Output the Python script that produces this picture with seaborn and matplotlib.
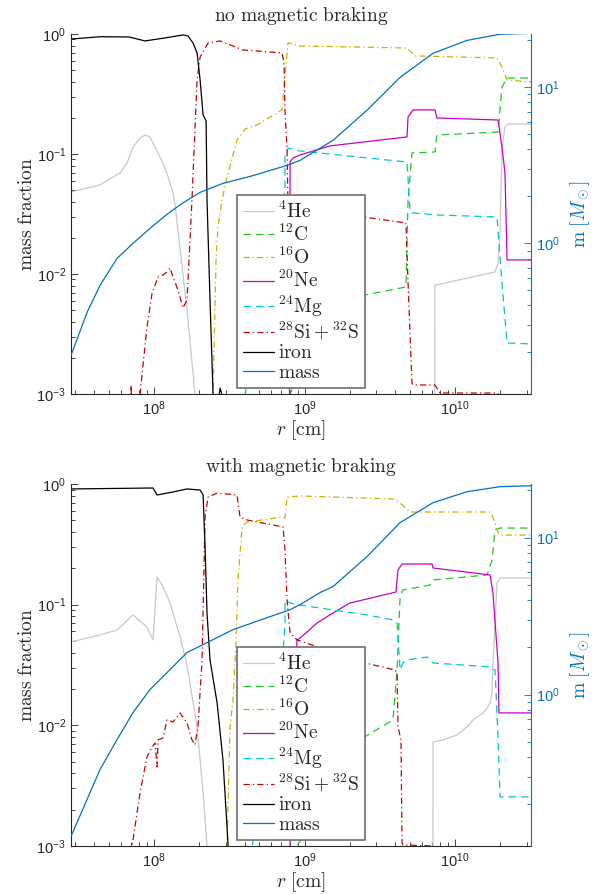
import numpy as np
import matplotlib
matplotlib.use('Agg')
import matplotlib.pyplot as plt
import matplotlib.ticker as mticker
import seaborn as sns

# values: log10 r [cm], log10 mass fraction, log10 m [Msun]

# ---------------- no magnetic braking ----------------
nb_he_r = [7.448, 7.641, 7.774, 7.821, 7.860, 7.907, 7.940, 7.973, 7.993, 8.040, 8.086, 8.126, 8.140,
           8.219, 8.272, 8.286, 8.4, 9.860, 9.867, 9.880, 10.266, 10.286, 10.299, 10.312, 10.332, 10.353, 10.505]
nb_he_x = [-1.317, -1.258, -1.158, -1.075, -0.942, -0.867, -0.842, -0.858, -0.908, -1.025, -1.158, -1.325, -1.425,
           -2.3, -3.0, -3.3, -6, -6, -2.092, -2.09, -1.983, -1.908, -1.658, -0.967, -0.775, -0.75, -0.75]

nb_c_r = [8.897, 8.904, 9.10, 9.402, 9.674, 9.688, 9.714, 9.867, 9.880, 10.286, 10.312, 10.346, 10.505]
nb_c_x = [-5, -3.0, -2.5, -2.175, -2.108, -1.383, -0.992, -0.983, -0.842, -0.817, -0.442, -0.367, -0.367]

nb_o_r = [8.385, 8.392, 8.412, 8.425, 8.452, 8.485, 8.551, 8.605, 8.684, 8.850, 8.864, 8.890, 8.924, 8.970,
          9.681, 9.734, 10.279, 10.312, 10.346, 10.505]
nb_o_x = [-3.3, -3.0, -1.883, -1.608, -1.383, -1.192, -0.883, -0.792, -0.758, -0.633, -0.442, -0.075, -0.083,
          -0.1, -0.117, -0.183, -0.2, -0.275, -0.383, -0.4]

nb_ne_r = [8.897, 8.904, 8.924, 8.970, 9.169, 9.681, 9.688, 9.721, 9.867, 9.880, 10.286, 10.312, 10.332,
           10.346, 10.505]
nb_ne_x = [-5, -1.067, -1.033, -1.008, -0.933, -0.858, -0.692, -0.633, -0.633, -0.7, -0.717, -0.942, -1.158,
           -1.883, -1.883]

nb_mg_r = [8.591, 8.605, 8.737, 8.870, 8.870, 8.890, 8.970, 9.681, 9.701, 9.721, 9.880, 10.279, 10.312,
           10.346, 10.505]
nb_mg_x = [-5, -3.0, -2.217, -1.3, -1.008, -0.95, -0.975, -1.067, -1.483, -1.492, -1.508, -1.525, -2.075,
           -2.575, -2.583]

nb_si_r = [7.834, 7.847, 7.860, 7.900, 7.907, 7.953, 7.987, 8.027, 8.060, 8.086, 8.106, 8.126, 8.159, 8.193,
           8.219, 8.239, 8.252, 8.286, 8.306, 8.359, 8.439, 8.591, 8.850, 8.864, 8.870, 8.884, 8.890, 9.389,
           9.674, 9.688, 9.714, 9.721, 9.867, 9.900, 10.286, 10.299]
nb_si_x = [-3.5, -2.93, -3.5, -4, -3.0, -2.442, -2.158, -2.025, -2.008, -1.983, -1.95, -2.025, -2.133, -2.283,
           -2.217, -1.717, -1.383, -0.383, -0.192, -0.075, -0.058, -0.133, -0.158, -0.242, -0.633, -0.967,
           -1.425, -1.525, -1.575, -2.075, -2.908, -2.925, -2.925, -2.992, -2.992, -4]

nb_fe_r = [7.448, 7.641, 7.834, 7.860, 7.940, 8.073, 8.193, 8.226, 8.259, 8.286, 8.306, 8.326, 8.346, 8.352,
           8.372, 8.392, 8.399, 8.412, 8.439, 8.505, 8.571]
nb_fe_x = [-0.042, -0.023, -0.025, -0.033, -0.058, -0.033, -0.008, -0.017, -0.075, -0.158, -0.383, -0.675,
           -0.725, -1.383, -2.217, -3.0, -3.3, -3.2, -2.95, -3.25, -5]

nb_m_r = [7.448, 7.555, 7.641, 7.754, 7.860, 7.973, 8.086, 8.186, 8.306, 8.458, 8.638, 8.884, 8.970, 9.189,
          9.415, 9.635, 9.854, 10.080, 10.299, 10.505]
nb_m = [-0.718, -0.442, -0.269, -0.096, 0.0, 0.096, 0.186, 0.256, 0.327, 0.385, 0.429, 0.5, 0.532, 0.660,
        0.853, 1.064, 1.218, 1.301, 1.340, 1.346]

# ---------------- with magnetic braking ----------------
mb_he_r = [7.448, 7.641, 7.754, 7.860, 7.953, 7.993, 8.020, 8.060, 8.106, 8.173, 8.219, 8.286, 8.326, 8.352,
           8.359, 8.5, 9.852, 9.854, 9.920, 10.013, 10.080, 10.120, 10.186, 10.219, 10.233, 10.246, 10.252,
           10.279, 10.299, 10.505]
mb_he_x = [-1.309, -1.251, -1.210, -1.085, -1.185, -1.292, -0.771, -0.853, -0.986, -1.268, -1.5, -2.013,
           -2.560, -3.0, -3.28, -6, -6, -2.138, -2.121, -2.080, -2.013, -1.955, -1.897, -1.848, -1.814, -1.732,
           -1.483, -0.820, -0.779, -0.779]

mb_c_r = [8.93, 8.95, 9.40, 9.588, 9.615, 9.635, 9.654, 9.834, 9.854, 10.213, 10.246, 10.266, 10.299, 10.505]
mb_c_x = [-5, -3.0, -2.096, -1.955, -1.541, -0.936, -0.878, -0.837, -0.795, -0.754, -0.630, -0.381, -0.365,
          -0.365]

mb_o_r = [8.478, 8.485, 8.505, 8.525, 8.545, 8.558, 8.585, 8.618, 8.857, 8.870, 8.884, 8.970, 9.588, 9.635,
          9.701, 10.233, 10.252, 10.286, 10.299, 10.505]
mb_o_x = [-5, -3.0, -2.013, -1.79, -1.29, -0.795, -0.356, -0.315, -0.273, -0.282, -0.108, -0.099, -0.124,
          -0.157, -0.232, -0.232, -0.273, -0.398, -0.423, -0.423]

mb_ne_r = [8.890, 8.904, 8.944, 8.950, 8.970, 9.017, 9.083, 9.189, 9.302, 9.415, 9.608, 9.621, 9.648, 9.847,
           9.854, 10.233, 10.252, 10.286, 10.292, 10.505]
mb_ne_x = [-5, -3.0, -1.458, -1.292, -1.276, -1.226, -1.152, -1.069, -0.986, -0.953, -0.895, -0.713, -0.663,
           -0.663, -0.696, -0.754, -0.903, -1.483, -1.897, -1.897]

mb_mg_r = [8.638, 8.651, 8.837, 8.870, 8.870, 8.904, 8.970, 9.189, 9.415, 9.588, 9.615, 9.635, 9.654, 9.681,
           9.814, 9.847, 9.854, 10.233, 10.266, 10.286, 10.299, 10.505]
mb_mg_x = [-5, -3.0, -1.790, -1.152, -0.961, -0.986, -1.003, -1.044, -1.085, -1.127, -1.152, -1.541, -1.483,
           -1.458, -1.434, -1.475, -1.483, -1.516, -1.541, -2.096, -2.593, -2.593]

mb_si_r = [7.847, 7.854, 7.907, 7.953, 7.987, 8.007, 8.020, 8.027, 8.060, 8.086, 8.126, 8.173, 8.219, 8.252,
           8.272, 8.292, 8.319, 8.339, 8.359, 8.419, 8.551, 8.571, 8.618, 8.857, 8.870, 8.884, 8.904, 8.950,
           9.402, 9.601, 9.615, 9.621, 9.641, 9.648, 9.654, 9.854, 9.867]
mb_si_x = [-5, -3.0, -2.560, -2.262, -2.179, -2.146, -2.345, -2.121, -2.104, -1.955, -1.972, -1.897, -1.980,
           -2.121, -2.162, -2.013, -1.458, -0.273, -0.108, -0.075, -0.091, -0.273, -0.298, -0.356, -0.547,
           -0.961, -1.234, -1.292, -1.483, -1.541, -1.566, -2.013, -2.121, -2.974, -2.991, -3.0, -5]

mb_fe_r = [7.448, 7.993, 8.020, 8.126, 8.219, 8.306, 8.326, 8.339, 8.352, 8.372, 8.419, 8.458, 8.485, 8.492,
           8.498]
mb_fe_x = [-0.041, -0.033, -0.091, -0.066, -0.041, -0.050, -0.091, -0.522, -1.069, -1.458, -1.814, -2.287,
           -2.842, -3.0, -3.28]

mb_m_r = [7.448, 7.641, 7.754, 7.860, 7.973, 8.086, 8.219, 8.352, 8.525, 8.751, 8.904, 8.970, 9.103, 9.189,
          9.415, 9.635, 9.854, 10.080, 10.299, 10.505]
mb_m = [-0.904, -0.478, -0.287, -0.115, 0.032, 0.140, 0.268, 0.331, 0.414, 0.490, 0.541, 0.573, 0.650, 0.688,
        0.879, 1.096, 1.223, 1.293, 1.325, 1.331]

titles = ['no magnetic braking', 'with magnetic braking']
labels = [r'$^{4}\mathrm{He}$', r'$^{12}\mathrm{C}$', r'$^{16}\mathrm{O}$', r'$^{20}\mathrm{Ne}$',
          r'$^{24}\mathrm{Mg}$', r'$^{28}\mathrm{Si}+^{32}\mathrm{S}$', r'$\mathrm{iron}$', r'$\mathrm{mass}$']

colors = ['#c8c8c8', '#22c722', '#c8b400', '#c800c8', '#00c8c8', '#c80000', 'black']
styles = ['-', (0, (6, 4)), (0, (5, 2.5, 1, 2.5)), '-', (0, (6, 4)), (0, (5, 2.5, 1, 2.5)), '-']
MASS_BLUE = '#0072BD'

panels = [
    dict(species=[(nb_he_r, nb_he_x), (nb_c_r, nb_c_x), (nb_o_r, nb_o_x), (nb_ne_r, nb_ne_x),
                  (nb_mg_r, nb_mg_x), (nb_si_r, nb_si_x), (nb_fe_r, nb_fe_x)],
         mass=(nb_m_r, nb_m)),
    dict(species=[(mb_he_r, mb_he_x), (mb_c_r, mb_c_x), (mb_o_r, mb_o_x), (mb_ne_r, mb_ne_x),
                  (mb_mg_r, mb_mg_x), (mb_si_r, mb_si_x), (mb_fe_r, mb_fe_x)],
         mass=(mb_m_r, mb_m)),
]

sns.set_style('ticks')
plt.rcParams['font.family'] = ['Liberation Sans', 'DejaVu Sans']
plt.rcParams['mathtext.fontset'] = 'cm'
plt.rcParams['axes.unicode_minus'] = False

fig = plt.figure(figsize=(6, 8.94), dpi=100)
boxes = [[0.1183, 0.5593, 0.7667, 0.4027], [0.1183, 0.0537, 0.7667, 0.4049]]

for box, title, panel in zip(boxes, titles, panels):
    ax = fig.add_axes(box)
    ax.set_xscale('log')
    ax.set_yscale('log')
    ax2 = ax.twinx()
    ax2.set_yscale('log')

    for (r, x), c, ls, lab in zip(panel['species'], colors, styles, labels):
        sns.lineplot(x=10 ** np.array(r), y=10 ** np.array(x), ax=ax, color=c, linestyle=ls, lw=0.9,
                     sort=False, estimator=None, label=lab, legend=False)
    mr, mm = panel['mass']
    sns.lineplot(x=10 ** np.array(mr), y=10 ** np.array(mm), ax=ax2, color=MASS_BLUE, lw=0.9,
                 sort=False, estimator=None, label=labels[-1], legend=False)

    ax.set_xlim(10 ** 7.448, 10 ** 10.505)
    ax.set_ylim(1e-3, 1)
    ax2.set_ylim(10 ** -0.965, 10 ** 1.342)

    for a in (ax, ax2):
        a.tick_params(which='both', direction='in', labelsize=10.5, width=0.6)
        a.tick_params(which='major', length=5)
        a.tick_params(which='minor', length=3)
    ax.xaxis.set_major_locator(mticker.LogLocator(base=10, numticks=10))
    ax.yaxis.set_major_locator(mticker.LogLocator(base=10, numticks=10))
    ax2.yaxis.set_major_locator(mticker.LogLocator(base=10, numticks=10))
    ax2.yaxis.set_minor_locator(mticker.LogLocator(base=10, subs=np.arange(2, 10), numticks=10))

    ax.spines['top'].set_visible(False)
    ax.spines['right'].set_visible(False)
    for s in ('top', 'left', 'bottom'):
        ax2.spines[s].set_visible(False)
    for s in ('left', 'bottom'):
        ax.spines[s].set_color('#262626')
        ax.spines[s].set_linewidth(0.8)
    ax2.spines['right'].set_color(MASS_BLUE)
    ax2.spines['right'].set_linewidth(0.8)
    ax.tick_params(colors='#262626')
    ax.tick_params(axis='x', pad=4)
    ax2.tick_params(axis='y', which='both', colors=MASS_BLUE)

    ax.set_title(r'$\mathrm{' + title.replace(' ', r'\ ') + '}$', fontsize=14, pad=9, color='#262626')
    ax.set_xlabel(r'$r\ [\mathrm{cm}]$', fontsize=14, labelpad=0, color='#262626')
    ax.set_ylabel(r'$\mathrm{mass\ fraction}$', fontsize=14, labelpad=0, color='#262626')
    ax2.set_ylabel(r'$\mathrm{m}\ [M_\odot]$', fontsize=14, labelpad=6, color=MASS_BLUE)

    h1, l1 = ax.get_legend_handles_labels()
    h2, l2 = ax2.get_legend_handles_labels()
    leg = ax2.legend(h1 + h2, l1 + l2, loc='lower left', bbox_to_anchor=(0.361, 0.017), fontsize=14,
                     frameon=True, fancybox=False, labelspacing=0.1, handlelength=1.6, handletextpad=0.2,
                     borderpad=0.3, borderaxespad=0)
    leg.get_frame().set_edgecolor('#6e6e6e')
    leg.get_frame().set_linewidth(1.2)
    leg.get_frame().set_alpha(1)

fig.savefig('out.png', dpi=100)
